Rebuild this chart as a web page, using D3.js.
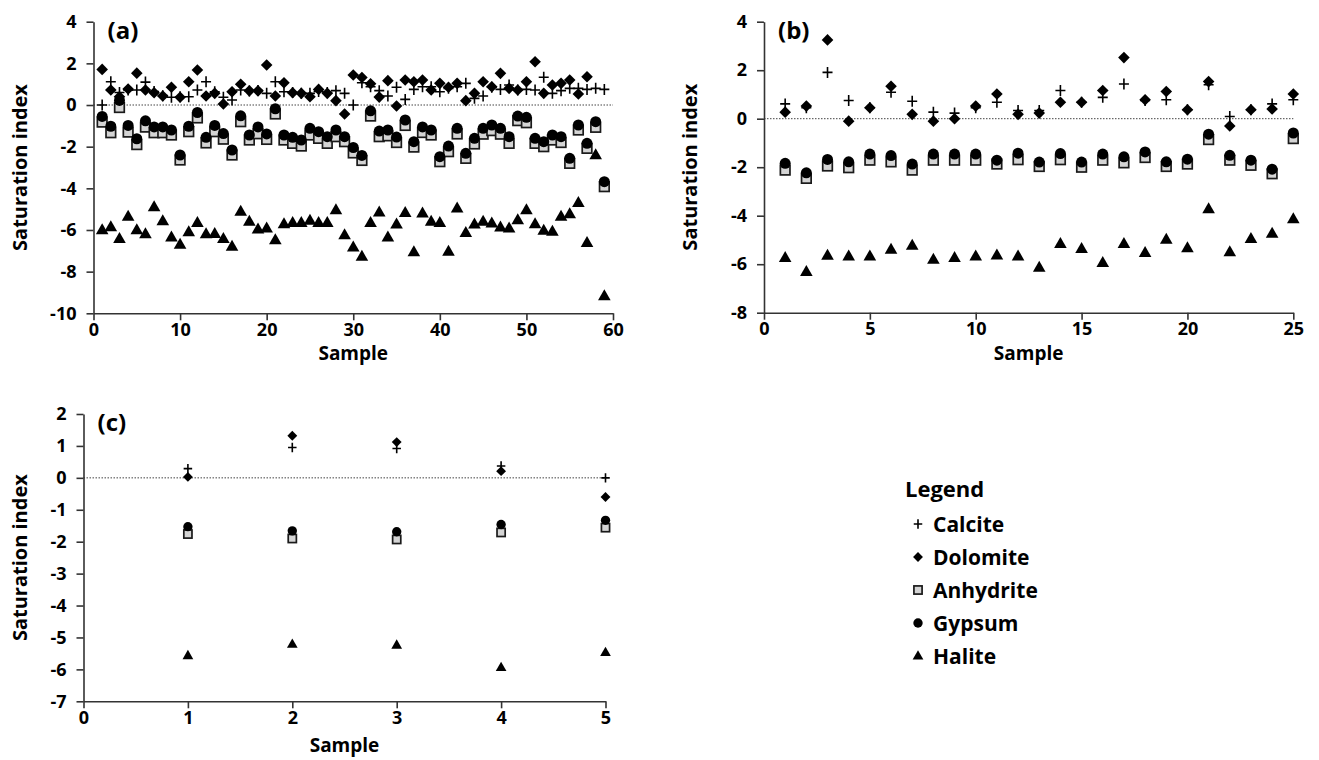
<!DOCTYPE html>
<html>
<head>
<meta charset="utf-8">
<script src="https://cdn.jsdelivr.net/npm/d3@7"></script>
<style>
  body { margin: 0; background: #fff; }
  svg text { font-family: "Open Sans", Lato, sans-serif; font-weight: bold; fill: #000; }
</style>
</head>
<body>
<svg id="chart" width="1319" height="760"></svg>
<script>
// panel (a): 59 samples
const calciteA = [0.0, 1.12, 0.6, 0.72, 0.72, 1.1, 0.65, 0.45, 0.37, 0.4, 0.4, 0.72, 1.12, 0.64, 0.37, 0.24, 0.72, 0.67, 0.7, 0.56,
  1.12, 0.64, 0.6, 0.56, 0.56, 0.65, 0.6, 0.69, 0.56, 0.0, 1.07, 0.88, 0.69, 0.43, 0.85, 0.27, 0.75, 0.88, 0.88, 0.64,
  0.8, 0.88, 1.04, 0.32, 0.43, 0.85, 0.75, 0.96, 0.72, 0.75, 0.72, 1.33, 0.56, 0.69, 0.8, 0.8, 0.75, 0.8, 0.75]
const dolomiteA = [1.71, 0.72, 0.4, 0.77, 1.53, 0.72, 0.59, 0.43, 0.85, 0.37, 1.12, 1.68, 0.43, 0.56, 0.05, 0.64, 1.0, 0.68, 0.68, 1.92,
  0.43, 1.07, 0.59, 0.56, 0.4, 0.75, 0.56, 0.21, -0.43, 1.44, 1.32, 1.02, 0.38, 1.17, -0.05, 1.2, 1.12, 1.2, 0.72, 1.04,
  0.85, 1.04, 0.21, 0.56, 1.12, 0.88, 1.52, 0.8, 0.72, 1.12, 2.08, 0.56, 0.96, 1.04, 1.2, 0.53, 1.36, null, null]
const anhydriteA = [-0.82, -1.33, -0.12, -1.3, -1.9, -1.06, -1.33, -1.33, -1.44, -2.64, -1.28, -0.62, -1.82, -1.28, -1.64, -2.4, -0.8, -1.68, -1.38, -1.65,
  -0.43, -1.68, -1.84, -1.97, -1.44, -1.6, -1.84, -1.52, -1.76, -2.3, -2.66, -0.53, -1.52, -1.48, -1.8, -0.98, -2.02, -1.32, -1.44, -2.72,
  -2.24, -1.39, -2.56, -1.87, -1.4, -1.23, -1.4, -1.84, -0.75, -0.85, -1.84, -2.0, -1.68, -1.8, -2.8, -1.2, -2.08, -1.07, -3.92]
const gypsumA = [-0.55, -1.02, 0.22, -0.98, -1.62, -0.76, -1.05, -1.05, -1.2, -2.4, -1.02, -0.36, -1.55, -0.98, -1.37, -2.16, -0.52, -1.44, -1.05, -1.39,
  -0.18, -1.44, -1.55, -1.68, -1.12, -1.28, -1.52, -1.2, -1.52, -2.04, -2.42, -0.28, -1.25, -1.2, -1.54, -0.72, -1.76, -1.05, -1.2, -2.48,
  -1.97, -1.12, -2.32, -1.6, -1.12, -0.96, -1.12, -1.52, -0.53, -0.59, -1.6, -1.76, -1.44, -1.52, -2.56, -0.96, -1.84, -0.8, -3.68]
const haliteA = [-6.0, -5.86, -6.42, -5.36, -6.0, -6.2, -4.9, -5.57, -6.35, -6.7, -6.1, -5.66, -6.2, -6.18, -6.42, -6.8, -5.12, -5.6, -5.97, -5.92,
  -6.48, -5.71, -5.65, -5.65, -5.55, -5.65, -5.65, -5.04, -6.24, -6.83, -7.28, -5.65, -5.15, -6.35, -5.73, -5.17, -7.06, -5.2, -5.6, -5.65,
  -7.04, -4.96, -6.13, -5.73, -5.6, -5.68, -5.87, -5.92, -5.52, -5.04, -5.71, -6.03, -6.08, -5.36, -5.23, -4.69, -6.61, -2.4, -9.17]

// panel (b): 25 samples
const calciteB = [0.61, 0.45, 1.91, 0.75, 0.45, 1.09, 0.72, 0.27, 0.23, 0.45, 0.68, 0.34, 0.34, 1.16, 0.68, 0.88, 1.43, 0.75, 0.78, 0.37, 1.4, 0.09, 0.37, 0.61, 0.78]
const dolomiteB = [0.27, 0.52, 3.25, -0.1, 0.45, 1.34, 0.18, -0.1, 0.0, 0.52, 1.02, 0.18, 0.23, 0.68, 0.68, 1.16, 2.52, 0.78, 1.12, 0.37, 1.53, -0.3, 0.37, 0.4, 1.02]
const anhydriteB = [-2.12, -2.46, -1.95, -2.02, -1.71, -1.78, -2.12, -1.71, -1.71, -1.71, -1.87, -1.69, -1.97, -1.69, -2.0, -1.71, -1.82, -1.6, -1.97, -1.87, -0.86, -1.71, -1.92, -2.27, -0.82]
const gypsumB = [-1.84, -2.23, -1.68, -1.78, -1.46, -1.52, -1.87, -1.46, -1.46, -1.46, -1.71, -1.42, -1.79, -1.44, -1.79, -1.46, -1.57, -1.37, -1.78, -1.67, -0.64, -1.51, -1.71, -2.08, -0.59]
const haliteB = [-5.74, -6.31, -5.64, -5.67, -5.67, -5.4, -5.23, -5.81, -5.74, -5.67, -5.63, -5.67, -6.14, -5.16, -5.37, -5.94, -5.16, -5.53, -4.98, -5.33, -3.73, -5.5, -4.95, -4.74, -4.14]

// panel (c): 5 samples
const calciteC = [0.29, 0.95, 0.92, 0.37, 0.0]
const dolomiteC = [0.03, 1.32, 1.12, 0.21, -0.6]
const anhydriteC = [-1.76, -1.9, -1.93, -1.71, -1.56]
const gypsumC = [-1.53, -1.66, -1.69, -1.46, -1.33]
const haliteC = [-5.57, -5.21, -5.24, -5.94, -5.47]

const xTicksA = [0, 10, 20, 30, 40, 50, 60]
const yTicksA = [4, 2, 0, -2, -4, -6, -8, -10]
const xTicksB = [0, 5, 10, 15, 20, 25]
const yTicksB = [4, 2, 0, -2, -4, -6, -8]
const xTicksC = [0, 1, 2, 3, 4, 5]
const yTicksC = [2, 1, 0, -1, -2, -3, -4, -5, -6, -7]

const minerals = ["Calcite", "Dolomite", "Anhydrite", "Gypsum", "Halite"]

const svg = d3.select("#chart")

// marker shapes, drawn around 0,0
function marker(sel, kind, k) {
  if (kind == "Calcite") {
    sel.append("path").attr("d", `M${-5*k},0H${5*k}M0,${-5.5*k}V${5.5*k}`)
      .attr("stroke", "#000").attr("stroke-width", 1.6).attr("fill", "none")
  } else if (kind == "Dolomite") {
    sel.append("path").attr("d", `M0,${-5.8*k}L${5.8*k},0L0,${5.8*k}L${-5.8*k},0Z`).attr("fill", "#000")
  } else if (kind == "Anhydrite") {
    sel.append("rect").attr("x", -4.8*k).attr("y", -4.8*k).attr("width", 9.6*k).attr("height", 9.6*k)
      .attr("fill", "#d4d4d4").attr("stroke", "#1a1a1a").attr("stroke-width", 1.7)
  } else if (kind == "Gypsum") {
    sel.append("circle").attr("r", 5.5*k).attr("fill", "#000")
  } else {
    sel.append("path").attr("d", `M0,${-6.8*k}L${6.3*k},${4.2*k}L${-6.3*k},${4.2*k}Z`).attr("fill", "#000")
  }
}

function drawPanel(p) {
  const x = d3.scaleLinear().domain([p.xTicks[0], p.xTicks[p.xTicks.length - 1]]).range([p.left, p.right])
  const y = d3.scaleLinear().domain([p.yTicks[p.yTicks.length - 1], p.yTicks[0]]).range([p.bottom, p.top])

  const g = svg.append("g")

  g.append("line")
    .attr("x1", x(p.xTicks[0])).attr("x2", x(p.xTicks[p.xTicks.length - 1]))
    .attr("y1", y(0)).attr("y2", y(0))
    .attr("stroke", "#444").attr("stroke-width", 1).attr("stroke-dasharray", "1.5,1.5")

  const xAxis = d3.axisBottom(x).tickValues(p.xTicks).tickFormat(d => String(d))
    .tickSize(7).tickSizeOuter(0).tickPadding(3)
  const yAxis = d3.axisLeft(y).tickValues(p.yTicks).tickFormat(d => String(d))
    .tickSize(7).tickSizeOuter(0).tickPadding(10)

  g.append("g").attr("transform", "translate(0," + p.bottom + ")").call(xAxis)
  g.append("g").attr("transform", "translate(" + p.left + ",0)").call(yAxis)

  g.selectAll(".domain, .tick line").attr("stroke", "#333").attr("stroke-width", 1.6)
  g.selectAll(".tick text").style("font-size", "18px")
    .style("font-family", "'Open Sans', sans-serif").style("font-weight", "bold")

  g.append("text")
    .attr("x", (p.left + p.right) / 2)
    .attr("y", p.bottom + p.sampleGap)
    .attr("text-anchor", "middle")
    .style("font-size", "19px")
    .text("Sample")

  g.append("text")
    .attr("transform", "translate(" + (p.left - p.titleGap) + "," + ((p.top + p.bottom) / 2) + ") rotate(-90)")
    .attr("text-anchor", "middle")
    .style("font-size", "20px")
    .text("Saturation index")

  g.append("text")
    .attr("x", p.left + 14)
    .attr("y", p.top + 17)
    .style("font-size", "24px")
    .text(p.label)

  p.series.forEach((vals, i) => {
    g.append("g").selectAll("g")
      .data(vals.map((v, j) => ({sample: j + 1, value: v})).filter(d => d.value != null))
      .enter().append("g")
      .attr("transform", d => "translate(" + x(d.sample) + "," + y(d.value) + ")")
      .each(function() { marker(d3.select(this), minerals[i], p.k) })
  })
}

drawPanel({
  label: "(a)", left: 93.5, right: 613, top: 21.7, bottom: 313.3, titleGap: 67, sampleGap: 47, k: 1,
  xTicks: xTicksA, yTicks: yTicksA,
  series: [calciteA, dolomiteA, anhydriteA, gypsumA, haliteA]
})

drawPanel({
  label: "(b)", left: 764, right: 1293.3, top: 21.7, bottom: 312.7, titleGap: 67, sampleGap: 47, k: 1,
  xTicks: xTicksB, yTicks: yTicksB,
  series: [calciteB, dolomiteB, anhydriteB, gypsumB, haliteB]
})

drawPanel({
  label: "(c)", left: 83.5, right: 605.5, top: 414, bottom: 701.3, titleGap: 57, sampleGap: 51, k: 0.85,
  xTicks: xTicksC, yTicks: yTicksC,
  series: [calciteC, dolomiteC, anhydriteC, gypsumC, haliteC]
})

// legend
const legend = svg.append("g").attr("transform", "translate(905,0)")
legend.append("text").attr("x", 0).attr("y", 497).style("font-size", "22px").text("Legend")
minerals.forEach((m, i) => {
  const yy = 524 + i * 33
  const row = legend.append("g").attr("transform", "translate(0," + yy + ")")
  marker(row.append("g").attr("transform", "translate(13,0)"), m, 0.85)
  row.append("text").attr("x", 28).attr("y", 7.5).style("font-size", "21px").text(m)
})
</script>
</body>
</html>
